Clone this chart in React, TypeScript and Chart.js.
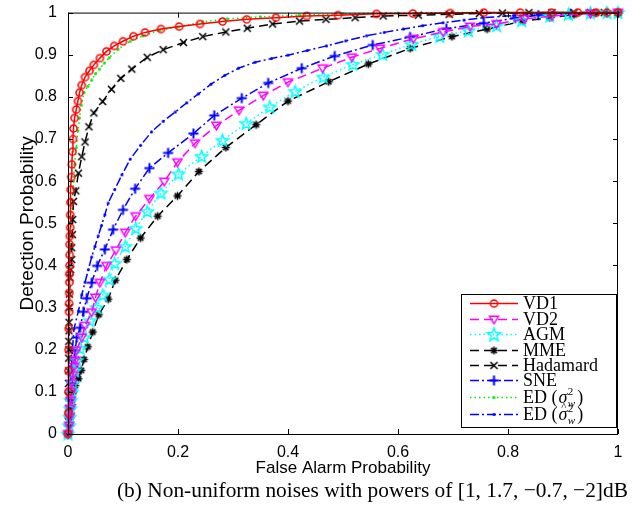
import React, { useEffect, useRef } from "react";
import { Chart, registerables } from "chart.js";

Chart.register(...registerables);

// ---------------- data ----------------
const seriesNames = ["VD1", "VD2", "AGM", "MME", "Hadamard", "SNE", "ED (σ²w)", "ED (σ̂²w)"];
const xTickValues = [0, 0.2, 0.4, 0.6, 0.8, 1];
const yTickValues = [0, 0.1, 0.2, 0.3, 0.4, 0.5, 0.6, 0.7, 0.8, 0.9, 1];
const xTitle = "False Alarm Probability";
const yTitle = "Detection Probability";
const caption = "(b) Non-uniform noises with powers of [1, 1.7, −0.7, −2]dB";

const vd1: [number, number][] = [
  [0, 0], [0.0005, 0.05], [0.0008, 0.1], [0.001, 0.15], [0.0012, 0.2], [0.0015, 0.25], [0.002, 0.29],
  [0.002, 0.31], [0.0022, 0.335], [0.0025, 0.36], [0.0025, 0.38], [0.003, 0.4], [0.003, 0.425],
  [0.003, 0.45], [0.0035, 0.47], [0.004, 0.49], [0.004, 0.52], [0.0045, 0.55], [0.005, 0.58],
  [0.006, 0.61], [0.007, 0.64], [0.008, 0.67], [0.009, 0.7], [0.01, 0.725], [0.012, 0.75],
  [0.015, 0.77], [0.018, 0.79], [0.021, 0.81], [0.025, 0.828], [0.031, 0.847], [0.039, 0.862],
  [0.047, 0.876], [0.058, 0.892], [0.07, 0.908], [0.084, 0.921], [0.1, 0.932], [0.119, 0.944],
  [0.14, 0.953], [0.169, 0.961], [0.202, 0.967], [0.24, 0.973], [0.281, 0.979], [0.325, 0.984],
  [0.378, 0.988], [0.434, 0.992], [0.491, 0.994], [0.561, 0.997], [0.627, 0.998], [0.695, 0.999],
  [0.756, 1], [0.822, 1], [0.879, 1], [0.927, 1], [0.96, 1], [0.98, 1], [1, 1],
];

const vd2: [number, number][] = [
  [0, 0], [0.002, 0.02], [0.003, 0.04], [0.004, 0.06], [0.005, 0.08], [0.006, 0.1], [0.007, 0.12],
  [0.009, 0.14], [0.011, 0.16], [0.013, 0.175], [0.015, 0.198], [0.025, 0.229], [0.031, 0.257],
  [0.043, 0.289], [0.05, 0.324], [0.058, 0.359], [0.07, 0.399], [0.087, 0.436], [0.104, 0.478],
  [0.123, 0.517], [0.148, 0.558], [0.175, 0.599], [0.199, 0.645], [0.231, 0.69], [0.27, 0.732],
  [0.311, 0.768], [0.355, 0.803], [0.4, 0.835], [0.463, 0.868], [0.516, 0.894], [0.567, 0.915],
  [0.628, 0.938], [0.682, 0.954], [0.731, 0.967], [0.779, 0.973], [0.83, 0.985], [0.88, 0.992],
  [0.95, 0.998], [1, 1],
];

const agm: [number, number][] = [
  [0, 0], [0.002, 0.02], [0.003, 0.04], [0.004, 0.06], [0.005, 0.08], [0.007, 0.1], [0.009, 0.12],
  [0.012, 0.15], [0.016, 0.175], [0.022, 0.203], [0.03, 0.229], [0.04, 0.269], [0.052, 0.3],
  [0.063, 0.33], [0.075, 0.367], [0.085, 0.405], [0.104, 0.445], [0.123, 0.488], [0.144, 0.528],
  [0.169, 0.572], [0.201, 0.617], [0.243, 0.659], [0.281, 0.697], [0.324, 0.737], [0.367, 0.776],
  [0.413, 0.813], [0.464, 0.847], [0.518, 0.877], [0.572, 0.901], [0.625, 0.925], [0.676, 0.944],
  [0.728, 0.957], [0.779, 0.969], [0.825, 0.981], [0.876, 0.992], [0.91, 0.996], [0.95, 0.999],
  [0.98, 1], [1, 1],
];

const mme: [number, number][] = [
  [0, 0], [0.002, 0.02], [0.003, 0.035], [0.005, 0.05], [0.007, 0.07], [0.01, 0.1], [0.013, 0.115],
  [0.019, 0.131], [0.024, 0.151], [0.029, 0.177], [0.036, 0.207], [0.045, 0.242], [0.056, 0.283],
  [0.073, 0.32], [0.086, 0.365], [0.107, 0.414], [0.132, 0.465], [0.163, 0.517], [0.199, 0.565],
  [0.238, 0.623], [0.287, 0.68], [0.342, 0.734], [0.4, 0.79], [0.474, 0.836], [0.546, 0.878],
  [0.622, 0.915], [0.698, 0.943], [0.762, 0.961], [0.827, 0.98], [0.876, 0.988], [0.92, 0.995],
  [0.96, 0.999], [1, 1],
];

const hadamard: [number, number][] = [
  [0, 0], [0.001, 0.03], [0.001, 0.06], [0.001, 0.09], [0.001, 0.12], [0.0012, 0.15], [0.0012, 0.18],
  [0.0015, 0.2], [0.0015, 0.22], [0.0018, 0.245], [0.002, 0.265], [0.002, 0.3], [0.0024, 0.332],
  [0.0036, 0.371], [0.005, 0.39], [0.0067, 0.414], [0.0067, 0.442], [0.008, 0.473], [0.0085, 0.509],
  [0.01, 0.552], [0.014, 0.577], [0.019, 0.619], [0.025, 0.658], [0.031, 0.693], [0.038, 0.729],
  [0.047, 0.762], [0.063, 0.789], [0.079, 0.818], [0.096, 0.844], [0.116, 0.866], [0.144, 0.894],
  [0.173, 0.912], [0.21, 0.929], [0.245, 0.943], [0.287, 0.954], [0.326, 0.963], [0.372, 0.973],
  [0.421, 0.98], [0.469, 0.984], [0.522, 0.988], [0.573, 0.992], [0.637, 0.994], [0.693, 0.996],
  [0.748, 0.998], [0.79, 0.999], [0.838, 1], [0.88, 1], [0.92, 1], [0.95, 1], [0.975, 1], [1, 1],
];

const sne: [number, number][] = [
  [0, 0], [0.002, 0.02], [0.003, 0.04], [0.004, 0.06], [0.005, 0.08], [0.006, 0.1], [0.007, 0.12],
  [0.009, 0.14], [0.01, 0.16], [0.012, 0.18], [0.013, 0.198], [0.016, 0.229], [0.022, 0.252],
  [0.028, 0.29], [0.034, 0.322], [0.043, 0.359], [0.053, 0.399], [0.067, 0.438], [0.082, 0.485],
  [0.1, 0.532], [0.122, 0.582], [0.148, 0.631], [0.182, 0.667], [0.228, 0.713], [0.266, 0.756],
  [0.316, 0.797], [0.364, 0.833], [0.425, 0.868], [0.485, 0.897], [0.554, 0.923], [0.622, 0.942],
  [0.688, 0.962], [0.756, 0.975], [0.813, 0.987], [0.855, 0.994], [0.913, 0.997], [0.95, 0.999],
  [0.98, 1], [1, 1],
];

const edKnown: [number, number][] = [
  [0, 0], [0.001, 0.05], [0.0015, 0.1], [0.002, 0.15], [0.002, 0.2], [0.0025, 0.25], [0.003, 0.3],
  [0.003, 0.35], [0.004, 0.4], [0.005, 0.45], [0.006, 0.5], [0.008, 0.55], [0.01, 0.6], [0.012, 0.64],
  [0.015, 0.68], [0.018, 0.72], [0.021, 0.75], [0.024, 0.78], [0.029, 0.81], [0.036, 0.825],
  [0.043, 0.84], [0.05, 0.855], [0.057, 0.866], [0.066, 0.88], [0.075, 0.893], [0.091, 0.913],
  [0.113, 0.932], [0.136, 0.945], [0.167, 0.958], [0.2, 0.966], [0.245, 0.978], [0.29, 0.985],
  [0.35, 0.99], [0.42, 0.994], [0.5, 0.997], [0.6, 0.999], [0.7, 1], [0.8, 1], [0.9, 1], [1, 1],
];

const edEst: [number, number][] = [
  [0, 0], [0.002, 0.05], [0.004, 0.1], [0.006, 0.15], [0.008, 0.2], [0.011, 0.25], [0.019, 0.292],
  [0.025, 0.33], [0.031, 0.36], [0.037, 0.39], [0.043, 0.42], [0.049, 0.445], [0.055, 0.47],
  [0.061, 0.495], [0.067, 0.52], [0.073, 0.548], [0.085, 0.58], [0.098, 0.615], [0.113, 0.652],
  [0.132, 0.685], [0.152, 0.717], [0.173, 0.742], [0.195, 0.764], [0.216, 0.786], [0.237, 0.807],
  [0.26, 0.83], [0.285, 0.851], [0.31, 0.868], [0.34, 0.882], [0.37, 0.891], [0.4, 0.899],
  [0.435, 0.91], [0.47, 0.921], [0.505, 0.933], [0.543, 0.945], [0.575, 0.953], [0.61, 0.961],
  [0.645, 0.969], [0.682, 0.976], [0.72, 0.982], [0.755, 0.988], [0.81, 0.993], [0.865, 0.997],
  [0.92, 0.999], [1, 1],
];

// ---------------- markers ----------------
type MarkerKind = "circle" | "triDown" | "pentagram" | "asterisk" | "x" | "plus" | "dot";

function makeMarker(kind: MarkerKind, color: string, big = false): HTMLCanvasElement {
  const size = big ? 19 : 17;
  const c = document.createElement("canvas");
  c.width = size;
  c.height = size;
  const ctx = c.getContext("2d")!;
  const m = size / 2;
  ctx.strokeStyle = color;
  ctx.fillStyle = color;
  ctx.lineWidth = 1.5;
  ctx.lineJoin = "miter";
  ctx.beginPath();
  if (kind === "circle") {
    ctx.arc(m, m, 3.6, 0, Math.PI * 2);
    ctx.stroke();
  } else if (kind === "triDown") {
    ctx.moveTo(m - 4.5, m - 3.2);
    ctx.lineTo(m + 4.5, m - 3.2);
    ctx.lineTo(m, m + 4.3);
    ctx.closePath();
    ctx.stroke();
  } else if (kind === "pentagram") {
    const R = big ? 7 : 6.3;
    const r = R * 0.42;
    for (let i = 0; i < 10; i++) {
      const a = -Math.PI / 2 + (i * Math.PI) / 5;
      const rr = i % 2 === 0 ? R : r;
      const px = m + rr * Math.cos(a);
      const py = m + 0.5 + rr * Math.sin(a);
      if (i === 0) ctx.moveTo(px, py);
      else ctx.lineTo(px, py);
    }
    ctx.closePath();
    ctx.stroke();
  } else if (kind === "asterisk") {
    const r = 4;
    for (let i = 0; i < 4; i++) {
      const a = (i * Math.PI) / 4;
      ctx.moveTo(m - r * Math.cos(a), m - r * Math.sin(a));
      ctx.lineTo(m + r * Math.cos(a), m + r * Math.sin(a));
    }
    ctx.stroke();
  } else if (kind === "x") {
    const r = 3.5;
    ctx.moveTo(m - r, m - r);
    ctx.lineTo(m + r, m + r);
    ctx.moveTo(m - r, m + r);
    ctx.lineTo(m + r, m - r);
    ctx.stroke();
  } else if (kind === "plus") {
    const r = 5;
    ctx.lineWidth = 2;
    ctx.moveTo(m - r, m);
    ctx.lineTo(m + r, m);
    ctx.moveTo(m, m - r);
    ctx.lineTo(m, m + r);
    ctx.stroke();
  } else {
    ctx.arc(m, m, 1.5, 0, Math.PI * 2);
    ctx.fill();
  }
  return c;
}

const toXY = (arr: [number, number][]) => arr.map(([x, y]) => ({ x, y }));
const SANS = "Arial, 'Liberation Sans', Helvetica, sans-serif";

export default function App() {
  const ref = useRef<HTMLCanvasElement | null>(null);

  useEffect(() => {
    if (!ref.current) return;
    const specs: { data: [number, number][]; color: string; dash: number[]; marker: MarkerKind }[] = [
      { data: vd1, color: "#ff0000", dash: [], marker: "circle" },
      { data: vd2, color: "#ff00ff", dash: [9, 5], marker: "triDown" },
      { data: agm, color: "#00ffff", dash: [1.5, 3], marker: "pentagram" },
      { data: mme, color: "#000000", dash: [9, 5], marker: "asterisk" },
      { data: hadamard, color: "#000000", dash: [9, 5], marker: "x" },
      { data: sne, color: "#0000ff", dash: [9, 3, 2, 3], marker: "plus" },
      { data: edKnown, color: "#00ee00", dash: [1.5, 3], marker: "dot" },
      { data: edEst, color: "#0000ff", dash: [9, 3, 2, 3], marker: "dot" },
    ];
    const markers = specs.map((s) => makeMarker(s.marker, s.color));
    const legendMarkers = specs.map((s) => makeMarker(s.marker, s.color, true));

    const datasets = specs.map((s, i) => ({
      label: seriesNames[i],
      data: toXY(s.data),
      borderColor: s.color,
      backgroundColor: s.color,
      borderWidth: 1.5,
      borderDash: s.dash,
      pointStyle: markers[i] as any,
      pointRadius: 4,
      pointHoverRadius: 4,
      showLine: true,
      tension: 0,
      fill: false,
      clip: false as any,
    }));

    const framePlugin = {
      id: "framePlugin",
      afterDraw(chart: any) {
        const ctx: CanvasRenderingContext2D = chart.ctx;
        const { left, right, top, bottom } = chart.chartArea;
        const xs = chart.scales.x;
        const ys = chart.scales.y;
        ctx.save();
        ctx.setLineDash([]);
        ctx.strokeStyle = "#000";
        ctx.lineWidth = 1;
        ctx.strokeRect(left + 0.5, top + 0.5, right - left - 1, bottom - top);
        ctx.beginPath();
        const tl = 5;
        xTickValues.forEach((v) => {
          const px = Math.round(xs.getPixelForValue(v)) + 0.5;
          ctx.moveTo(px, bottom);
          ctx.lineTo(px, bottom - tl);
          ctx.moveTo(px, top);
          ctx.lineTo(px, top + tl);
        });
        yTickValues.forEach((v) => {
          const py = Math.round(ys.getPixelForValue(v)) + 0.5;
          ctx.moveTo(left, py);
          ctx.lineTo(left + tl, py);
          ctx.moveTo(right, py);
          ctx.lineTo(right - tl, py);
        });
        ctx.stroke();

        // legend
        const bx = 461, by = 294, bw = 155, bh = 133;
        ctx.fillStyle = "#fff";
        ctx.fillRect(bx, by, bw, bh);
        ctx.strokeRect(bx + 0.5, by + 0.5, bw, bh);
        const rows = [303, 319, 334, 350, 365, 380, 397, 414];
        const fontMain = '18px "Liberation Serif", serif';
        const fontItal = 'italic 18px "Liberation Serif", serif';
        const fontSmall = '11px "Liberation Serif", serif';
        const fontSmallIt = 'italic 11px "Liberation Serif", serif';
        specs.forEach((s, i) => {
          const y = rows[i];
          ctx.strokeStyle = s.color;
          ctx.lineWidth = 1.5;
          ctx.setLineDash(s.dash);
          ctx.beginPath();
          ctx.moveTo(470, y + 0.5);
          ctx.lineTo(518, y + 0.5);
          ctx.stroke();
          ctx.setLineDash([]);
          const mk = legendMarkers[i];
          ctx.drawImage(mk, 494 - mk.width / 2, y + 0.5 - mk.height / 2);
          ctx.fillStyle = "#000";
          ctx.textBaseline = "middle";
          ctx.textAlign = "left";
          let tx = 523;
          if (i < 6) {
            ctx.font = fontMain;
            ctx.fillText(seriesNames[i], tx, y + 1);
          } else {
            ctx.font = fontMain;
            const pre = "ED (";
            ctx.fillText(pre, tx, y + 1);
            tx += ctx.measureText(pre).width + 1;
            ctx.font = fontItal;
            ctx.fillText("σ", tx, y + 1);
            const sw = ctx.measureText("σ").width;
            if (i === 7) {
              ctx.font = fontSmall;
              ctx.textAlign = "center";
              ctx.fillText("^", tx + sw / 2 + 1, y - 7);
              ctx.textAlign = "left";
            }
            tx += sw + 0.5;
            ctx.font = fontSmall;
            ctx.fillText("2", tx, y - 5);
            ctx.font = fontSmallIt;
            ctx.fillText("w", tx, y + 7);
            tx += ctx.measureText("w").width + 2;
            ctx.font = fontMain;
            ctx.fillText(")", tx, y + 1);
          }
        });

        // caption
        ctx.fillStyle = "#000";
        ctx.textAlign = "left";
        ctx.textBaseline = "middle";
        ctx.font = '20px "Liberation Serif", serif';
        const w = ctx.measureText(caption).width;
        const fs = (20 * 511) / w;
        ctx.font = `${fs.toFixed(2)}px "Liberation Serif", serif`;
        ctx.fillText(caption, 117, 491);
        ctx.restore();
      },
    };

    const chart = new Chart(ref.current, {
      type: "scatter",
      data: { datasets: datasets as any },
      options: {
        animation: false,
        responsive: false,
        devicePixelRatio: 1,
        layout: { padding: { top: 10, right: 14, left: 0, bottom: 0 } },
        plugins: {
          legend: { display: false },
          tooltip: { enabled: false },
        },
        scales: {
          x: {
            type: "linear",
            min: 0,
            max: 1,
            afterFit: (s: any) => {
              s.height = 76;
            },
            afterBuildTicks: (s: any) => {
              s.ticks = xTickValues.map((v) => ({ value: v }));
            },
            grid: { display: false },
            border: { display: false },
            ticks: {
              color: "#000",
              padding: 1,
              maxRotation: 0,
              font: { family: SANS, size: 16 },
              callback: (v: any) => String(Math.round(Number(v) * 10) / 10),
            },
            title: {
              display: true,
              text: xTitle,
              color: "#000",
              font: { family: SANS, size: 17 },
              padding: { top: 0, bottom: 31 },
            },
          },
          y: {
            type: "linear",
            min: 0,
            max: 1,
            afterFit: (s: any) => {
              s.width = 68;
            },
            afterBuildTicks: (s: any) => {
              s.ticks = yTickValues.map((v) => ({ value: v }));
            },
            grid: { display: false },
            border: { display: false },
            ticks: {
              color: "#000",
              padding: 3,
              font: { family: SANS, size: 16 },
              callback: (v: any) => String(Math.round(Number(v) * 10) / 10),
            },
            title: {
              display: true,
              text: yTitle,
              color: "#000",
              font: { family: SANS, size: 19 },
              padding: { top: 16, bottom: 0 },
            },
          },
        },
      },
      plugins: [framePlugin],
    });
    return () => chart.destroy();
  }, []);

  return (
    <div style={{ position: "absolute", left: 0, top: 0, width: 632, height: 510, background: "#fff" }}>
      <canvas ref={ref} width={632} height={510} style={{ display: "block", width: 632, height: 510 }} />
    </div>
  );
}
